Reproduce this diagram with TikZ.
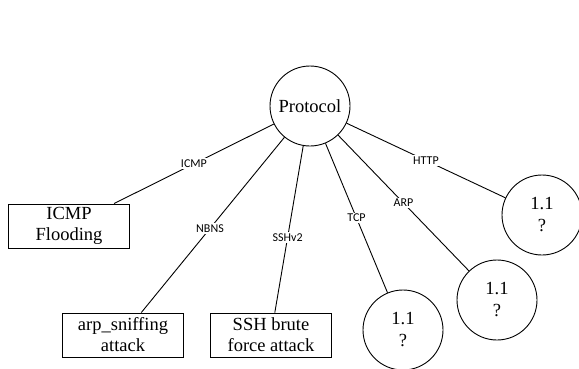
\documentclass[tikz,border=0pt]{standalone}
\usepackage{fontspec}
\setmainfont{Liberation Serif}
\newfontfamily\labfont{Carlito}
\begin{document}
\begin{tikzpicture}[x=1pt,y=-1pt,
  every node/.style={font=\fontsize{18.5}{20}\selectfont},
  circ/.style={draw,circle,line width=0.9pt,minimum size=80pt,inner sep=0pt,align=center,fill=white,font=\fontsize{18.5}{22}\selectfont},
  bx/.style={draw,rectangle,line width=0.9pt,minimum width=121pt,minimum height=44pt,inner sep=1pt,align=center,fill=white,font=\fontsize{18.5}{21}\selectfont},
  edge/.style={line width=0.9pt},
  lab/.style={fill=white,inner sep=1.5pt,font=\labfont\fontsize{12}{13}\selectfont}]
\useasboundingbox (0,0) rectangle (579,368);
\node[circ] (p) at (310,106) {Protocol};
\node[bx] (icmp) at (69,226) {ICMP\\Flooding};
\node[bx] (arp) at (123,335) {arp\_sniffing\\attack};
\node[bx] (ssh) at (271,335) {SSH brute\\force attack};
\node[circ] (tcp) at (403,330) {1.1\\?};
\node[circ] (arpc) at (497,300) {1.1\\?};
\node[circ] (http) at (542,215) {1.1\\?};
\draw[edge] (icmp) -- node[lab]{ICMP} (p);
\draw[edge] (arp) -- node[lab,pos=0.48]{NBNS} (p);
\draw[edge] (ssh) -- node[lab,pos=0.45]{SSHv2} (p);
\draw[edge] (p) -- node[lab,pos=0.5]{TCP} (tcp);
\draw[edge] (p) -- node[lab]{ARP} (arpc);
\draw[edge] (p) -- node[lab]{HTTP} (http);
\end{tikzpicture}
\end{document}
